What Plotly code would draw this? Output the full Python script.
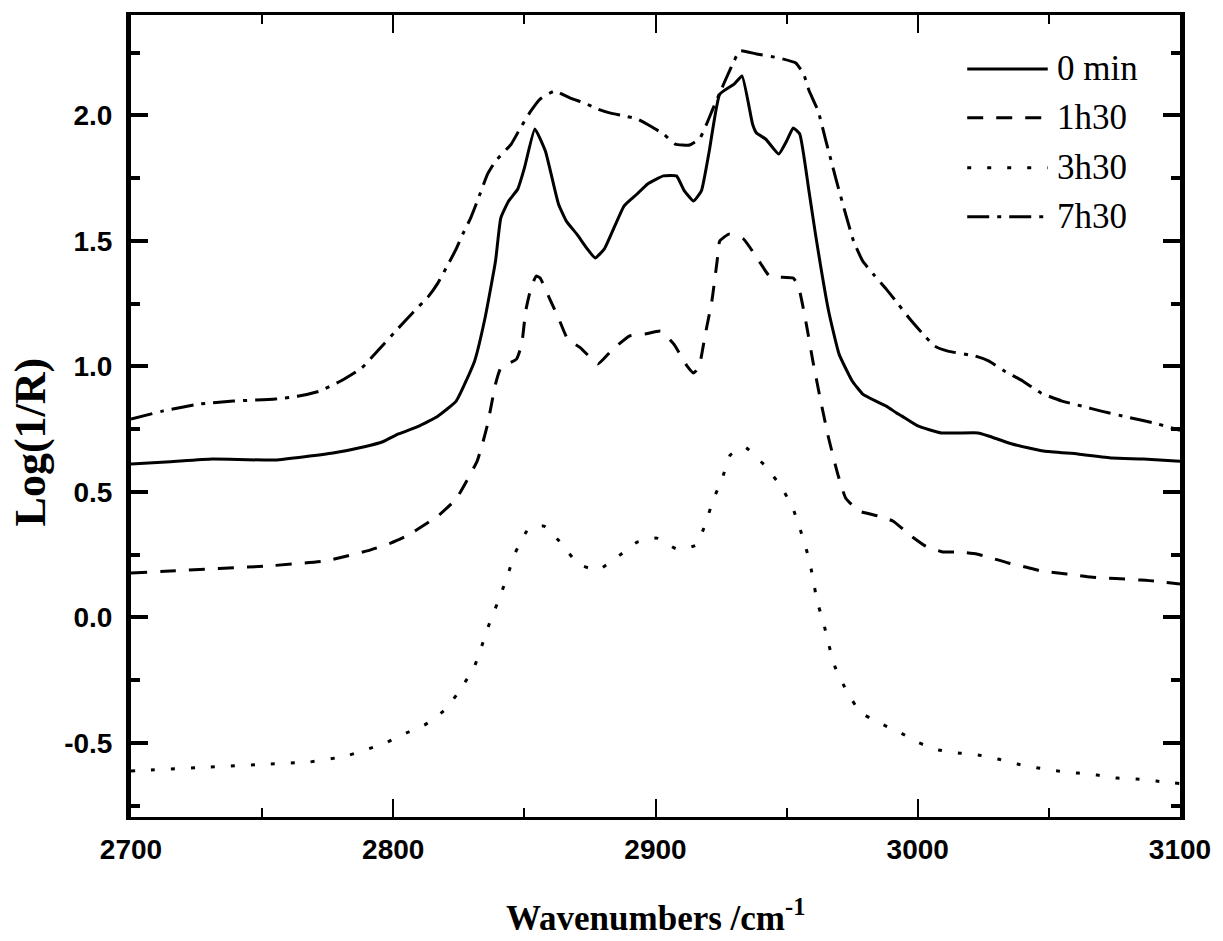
import plotly.graph_objects as go

# ---------------- data ----------------
x_0min = [2700, 2715, 2731, 2755, 2777, 2789, 2796, 2802, 2810, 2817, 2824, 2831, 2835, 2839, 2841,
          2844, 2847.5, 2850, 2854, 2858, 2863, 2866, 2870, 2874, 2877, 2880.5, 2888, 2893, 2897,
          2903, 2908, 2911, 2914.5, 2917.5, 2920.5, 2924.5, 2930, 2933, 2937, 2938.5, 2942, 2947,
          2950, 2952.5, 2955, 2958.5, 2961, 2966, 2970, 2975, 2979, 2984, 2988, 2992, 2994, 3000,
          3009, 3023, 3027, 3036, 3048, 3061, 3074, 3086, 3100]
y_0min = [0.611, 0.620, 0.631, 0.627, 0.655, 0.680, 0.700, 0.731, 0.763, 0.802, 0.862, 1.021, 1.193,
          1.420, 1.591, 1.659, 1.707, 1.790, 1.946, 1.858, 1.647, 1.579, 1.527, 1.468, 1.432, 1.468,
          1.639, 1.687, 1.727, 1.759, 1.759, 1.699, 1.659, 1.699, 1.858, 2.085, 2.125, 2.157, 1.966,
          1.930, 1.906, 1.846, 1.898, 1.950, 1.926, 1.700, 1.527, 1.221, 1.049, 0.942, 0.890, 0.862,
          0.842, 0.814, 0.802, 0.763, 0.735, 0.735, 0.723, 0.691, 0.663, 0.651, 0.635, 0.631, 0.622]

x_1h30 = [2700, 2715, 2752, 2774, 2790, 2799, 2805, 2817, 2824, 2828, 2832, 2834, 2836, 2839, 2841,
          2847, 2849, 2850.5, 2852.5, 2854.5, 2856, 2860, 2863, 2866.5, 2871.5, 2878, 2883, 2890,
          2896, 2902, 2907, 2912, 2914.5, 2916.5, 2919, 2921.5, 2923.5, 2924.5, 2928, 2933.5, 2939,
          2943.5, 2952.5, 2954.5, 2957.5, 2960, 2963, 2966, 2969.5, 2972.5, 2977.5, 2985, 2990.5,
          2997.5, 3003, 3009.5, 3015.5, 3022.5, 3028, 3034.5, 3041, 3047, 3053.5, 3060, 3066, 3072,
          3079, 3085, 3090, 3100]
y_1h30 = [0.177, 0.185, 0.205, 0.225, 0.265, 0.296, 0.324, 0.404, 0.472, 0.544, 0.623, 0.691, 0.771,
          0.930, 0.994, 1.029, 1.089, 1.221, 1.312, 1.360, 1.352, 1.261, 1.193, 1.109, 1.073, 1.010,
          1.061, 1.121, 1.129, 1.141, 1.089, 1.002, 0.974, 0.994, 1.129, 1.261, 1.420, 1.500, 1.527,
          1.508, 1.428, 1.360, 1.352, 1.320, 1.169, 1.022, 0.862, 0.715, 0.571, 0.476, 0.424, 0.404,
          0.384, 0.324, 0.284, 0.261, 0.261, 0.253, 0.237, 0.217, 0.201, 0.185, 0.177, 0.169, 0.161,
          0.157, 0.153, 0.149, 0.145, 0.133]

x_3h30 = [2700, 2707, 2730, 2752, 2768, 2782, 2797, 2805, 2812.5, 2820, 2826, 2831, 2834, 2837,
          2840.5, 2843.5, 2846.5, 2851.5, 2857.5, 2864, 2870.5, 2878, 2885.5, 2893, 2900.5, 2908,
          2915.5, 2919, 2922, 2925.5, 2928.5, 2934, 2941.5, 2948, 2952.5, 2955.5, 2958, 2960,
          2961.5, 2964, 2966, 2968.5, 2972.5, 2978, 2985.5, 2993, 3000.5, 3008, 3015.5, 3023,
          3030.5, 3038, 3046, 3053.5, 3061, 3068.5, 3076, 3083.5, 3091, 3100]
y_3h30 = [-0.612, -0.608, -0.596, -0.584, -0.576, -0.552, -0.500, -0.460, -0.425, -0.365, -0.281,
          -0.194, -0.106, -0.014, 0.077, 0.165, 0.257, 0.352, 0.364, 0.296, 0.213, 0.189, 0.241,
          0.300, 0.316, 0.273, 0.288, 0.372, 0.468, 0.555, 0.647, 0.679, 0.607, 0.520, 0.432, 0.340,
          0.253, 0.161, 0.069, -0.018, -0.106, -0.198, -0.285, -0.377, -0.421, -0.457, -0.500,
          -0.528, -0.540, -0.548, -0.564, -0.584, -0.600, -0.612, -0.620, -0.628, -0.640, -0.644,
          -0.652, -0.662]

x_7h30 = [2700, 2712, 2726, 2739, 2755, 2764, 2772, 2780, 2788, 2794, 2802, 2807, 2813.5, 2817,
          2821, 2824, 2826.5, 2829.5, 2832.5, 2836, 2839, 2845, 2848.5, 2852.5, 2856, 2861.5, 2867.5,
          2873, 2878, 2882.5, 2888, 2893, 2898, 2903, 2907.5, 2913, 2917, 2919.5, 2922, 2924.5, 2927,
          2930, 2932, 2938.5, 2947, 2953.5, 2956.5, 2958.5, 2962, 2965, 2969, 2972.5, 2975.5, 2979,
          2983, 2988, 2992.5, 2997, 3002, 3006.5, 3011.5, 3022, 3027, 3033, 3040, 3047, 3055, 3062.5,
          3070, 3080, 3090, 3100]
y_7h30 = [0.790, 0.822, 0.850, 0.862, 0.870, 0.882, 0.902, 0.942, 0.994, 1.061, 1.153, 1.209, 1.280,
          1.332, 1.408, 1.468, 1.527, 1.591, 1.671, 1.767, 1.818, 1.886, 1.950, 2.018, 2.065, 2.097,
          2.069, 2.049, 2.025, 2.010, 1.998, 1.986, 1.958, 1.926, 1.886, 1.882, 1.910, 1.966, 2.029,
          2.089, 2.149, 2.217, 2.257, 2.245, 2.229, 2.209, 2.165, 2.100, 2.018, 1.898, 1.739, 1.607,
          1.500, 1.420, 1.368, 1.308, 1.249, 1.189, 1.129, 1.081, 1.061, 1.041, 1.022, 0.982, 0.942,
          0.894, 0.862, 0.842, 0.822, 0.798, 0.775, 0.745]

series_names = ["0 min", "1h30", "3h30", "7h30"]
x_ticks = [2700, 2800, 2900, 3000, 3100]
y_ticks = [-0.5, 0.0, 0.5, 1.0, 1.5, 2.0]
y_tick_labels = ["-0.5", "0.0", "0.5", "1.0", "1.5", "2.0"]

# ---------------- styles ----------------
dashes = ["solid", "16px,13px", "4px,16px", "22px,8px,4px,8px"]
LW = 3
tick_font = dict(family="Liberation Sans, Arial, sans-serif", size=28, color="black", weight="bold")
serif_bold = dict(family="Liberation Serif, Times New Roman, serif", size=40, color="black",
                  weight="bold")
legend_font = dict(family="Liberation Serif, Times New Roman, serif", size=35, color="black")

fig = go.Figure()
for xs, ys, name, dash in zip([x_0min, x_1h30, x_3h30, x_7h30],
                              [y_0min, y_1h30, y_3h30, y_7h30], series_names, dashes):
    fig.add_trace(go.Scatter(x=xs, y=ys, mode="lines", name=name, showlegend=False,
                             line=dict(color="black", width=LW, dash=dash,
                                       shape="spline", smoothing=0.4)))

W, H = 1223, 941
L, R, T, B = 131, 1186, 14, 817

fig.update_layout(
    width=W, height=H,
    margin=dict(l=L, r=W - R, t=T, b=H - B),
    paper_bgcolor="white", plot_bgcolor="white",
    showlegend=False,
)
fig.update_xaxes(range=[2700, 3100], tickvals=x_ticks, ticks="inside", ticklen=18, tickwidth=2,
                 tickcolor="black", showline=True, linewidth=3, linecolor="black",
                 mirror="allticks", showgrid=False, zeroline=False, tickfont=tick_font,
                 minor=dict(dtick=50, ticks="inside", ticklen=9, tickwidth=2, tickcolor="black",
                            showgrid=False),
                 ticklabelstandoff=5)
fig.update_yaxes(range=[-0.795, 2.4], tickvals=y_ticks, ticktext=y_tick_labels, ticks="inside",
                 ticklen=17, tickwidth=4, tickcolor="black", showline=True, linewidth=5,
                 linecolor="black", mirror="allticks", showgrid=False, zeroline=False,
                 tickfont=tick_font,
                 minor=dict(tickvals=[-0.75, -0.25, 0.25, 0.75, 1.25, 1.75, 2.25], ticks="inside",
                            ticklen=9, tickwidth=4, tickcolor="black", showgrid=False),
                 ticklabelstandoff=8)

# axis titles
fig.add_annotation(text="Wavenumbers /cm<sup>-1</sup>", xref="paper", yref="paper",
                   x=0.5, y=0, yshift=-(915 - B), xanchor="center", yanchor="middle",
                   showarrow=False, font=dict(serif_bold, size=35))
fig.add_annotation(text="Log(1/R)", xref="paper", yref="paper", x=0, xshift=-(L - 30),
                   y=(B - 442) / (B - T), xanchor="center", yanchor="middle", textangle=-90,
                   showarrow=False, font=dict(serif_bold, size=44))

# legend (keys drawn as shapes in paper space)
rows_px = [68, 117, 167, 216]
for name, dash, ypx in zip(series_names, dashes, rows_px):
    yp = (B - ypx) / (B - T)
    fig.add_shape(type="line", xref="paper", yref="paper",
                  x0=(972 - L) / (R - L), x1=(1053 - L) / (R - L), y0=yp, y1=yp,
                  line=dict(color="black", width=LW, dash=dash))
    fig.add_annotation(text=name, xref="paper", yref="paper", x=(1060 - L) / (R - L), y=yp,
                       xanchor="left", yanchor="middle", showarrow=False, font=legend_font)

fig.write_html("out.html", config={"displayModeBar": False},
               post_script="document.body.style.margin='0';")
